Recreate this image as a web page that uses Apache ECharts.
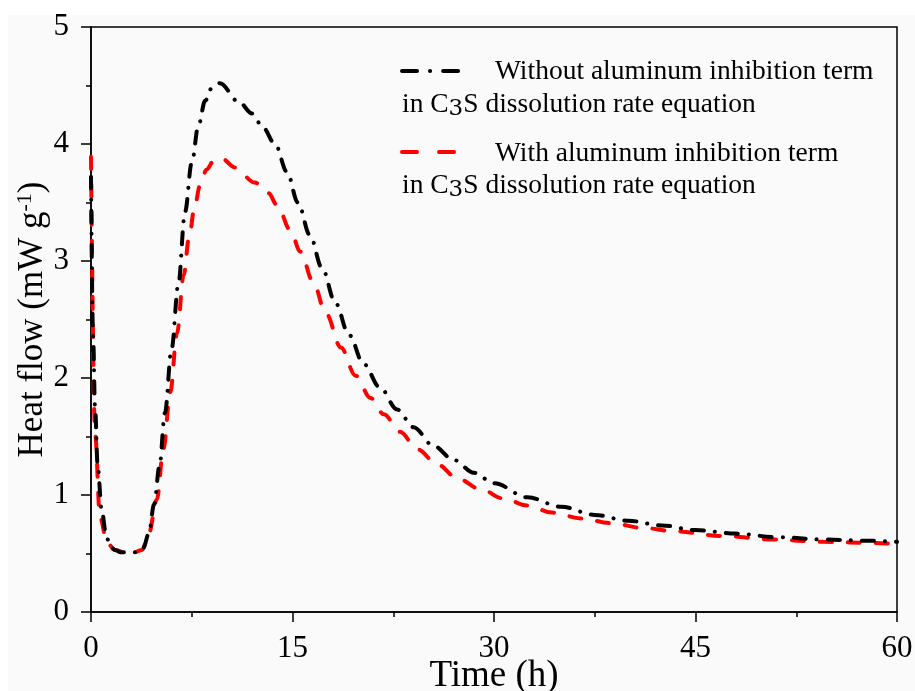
<!DOCTYPE html>
<html>
<head>
<meta charset="utf-8">
<script src="https://cdn.jsdelivr.net/npm/echarts@6/dist/echarts.min.js"></script>
<style>
  html, body { margin: 0; padding: 0; background: #ffffff; }
  #paper { position: absolute; left: 8px; top: 15px; width: 907px; height: 676px; background: #fafafa; }
  #chart { position: absolute; left: 0; top: 0; width: 915px; height: 691px; }
</style>
</head>
<body>
<div id="paper"></div>
<div id="chart"></div>
<script>
// Simulated heat flow of C3S hydration, with and without the aluminum inhibition term
const timeWithout = [0, 0.15, 0.3, 0.5, 0.8, 1.1, 1.4, 1.8, 2.2, 3.0, 3.5, 3.9, 4.3, 4.7, 5.1, 5.5, 6.0, 6.5, 7.0, 7.5, 8.0, 8.5, 9.0, 9.6, 11, 12, 12.8, 13.7, 14.6, 15.4, 16.3, 17.2, 18.2, 19.2, 20.3, 21.5, 22.8, 24, 25.5, 27, 28.5, 30, 32.5, 35, 37.5, 40, 42.5, 45, 48, 51, 54.5, 57.5, 60];
const heatWithout = [3.72, 2.38, 1.75, 1.24, 0.87, 0.68, 0.56, 0.53, 0.51, 0.51, 0.51, 0.55, 0.67, 0.92, 1.25, 1.7, 2.25, 2.8, 3.42, 3.84, 4.16, 4.37, 4.48, 4.52, 4.36, 4.26, 4.14, 4.0, 3.76, 3.5, 3.22, 2.94, 2.64, 2.37, 2.12, 1.92, 1.73, 1.58, 1.42, 1.30, 1.19, 1.10, 0.98, 0.9, 0.83, 0.78, 0.74, 0.70, 0.67, 0.64, 0.62, 0.61, 0.60];

const timeWith = [0, 0.3, 0.67, 1.2, 1.8, 2.5, 3.2, 3.8, 4.3, 4.9, 5.4, 5.9, 6.4, 6.9, 7.3, 7.7, 8.1, 8.6, 9.1, 9.7, 10.7, 12.2, 13.2, 13.9, 14.8, 15.6, 16.5, 17.5, 18.6, 19.7, 20.8, 21.8, 23, 24.3, 25.8, 27.3, 29, 30.7, 32.5, 34.3, 36.5, 38.7, 41, 43.4, 47, 50.7, 54.5, 58.4, 60];
const heatWith = [3.89, 1.53, 0.81, 0.59, 0.53, 0.51, 0.51, 0.53, 0.67, 0.96, 1.4, 1.88, 2.38, 2.88, 3.2, 3.45, 3.64, 3.78, 3.85, 3.88, 3.8, 3.67, 3.58, 3.47, 3.27, 3.08, 2.83, 2.55, 2.26, 2.02, 1.83, 1.69, 1.54, 1.39, 1.26, 1.14, 1.05, 0.97, 0.91, 0.85, 0.80, 0.76, 0.72, 0.69, 0.65, 0.62, 0.60, 0.59, 0.58];

const xTicks = { min: 0, max: 60, step: 15 };
const yTicks = { min: 0, max: 5, step: 1 };

const seriesNames = ['Without aluminum inhibition term', 'With aluminum inhibition term'];
const legendSecondLine = '{n|in C}{s|3}{n|S dissolution rate equation}';

const serif = "'Liberation Serif', 'Times New Roman', serif";

function pairs(xs, ys) { return xs.map((x, i) => [x, ys[i]]); }

const chart = echarts.init(document.getElementById('chart'), null, { renderer: 'canvas' });

const legendFont = 27.5;
const legendRich = {
  n: { fontFamily: serif, fontSize: legendFont, color: '#000' },
  s: { fontFamily: "'DejaVu Serif', serif", fontSize: 23, color: '#000', padding: [9, 0, 0, 0] }
};

const axisInk = { color: '#000', width: 1.5 };

chart.setOption({
  backgroundColor: 'transparent',
  animation: false,
  grid: {
    left: 91, right: 18, top: 27, bottom: 79,
    outerBoundsMode: 'none', containLabel: false,
    show: true, borderColor: '#000', borderWidth: 1.5, backgroundColor: 'transparent'
  },
  xAxis: {
    type: 'value', min: xTicks.min, max: xTicks.max, interval: xTicks.step,
    name: 'Time (h)', nameLocation: 'middle', nameGap: 46, nameMoveOverlap: false,
    nameTextStyle: { fontFamily: serif, fontSize: 37, color: '#000' },
    axisLine: { onZero: false, lineStyle: axisInk },
    axisTick: { length: 10, lineStyle: axisInk },
    minorTick: { show: true, splitNumber: 2, length: 5, lineStyle: axisInk },
    splitLine: { show: false },
    axisLabel: { fontFamily: serif, fontSize: 31, color: '#000', margin: 21 }
  },
  yAxis: {
    type: 'value', min: yTicks.min, max: yTicks.max, interval: yTicks.step,
    name: '{a|Heat flow (mW g}{sup|-1}{a|)}', nameLocation: 'middle', nameGap: 39, nameRotate: 90, nameMoveOverlap: false,
    nameTextStyle: {
      rich: {
        a: { fontFamily: serif, fontSize: 35, color: '#000' },
        sup: { fontFamily: serif, fontSize: 22, color: '#000', padding: [0, 0, 16, 0] }
      }
    },
    axisLine: { lineStyle: axisInk },
    axisTick: { length: 10, lineStyle: axisInk },
    minorTick: { show: true, splitNumber: 2, length: 5, lineStyle: axisInk },
    splitLine: { show: false },
    axisLabel: { fontFamily: serif, fontSize: 31, color: '#000', margin: 22 }
  },
  series: [
    {
      name: seriesNames[0], type: 'line', data: pairs(timeWithout, heatWithout),
      showSymbol: false, smooth: 0.35, smoothMonotone: 'x',
      lineStyle: { color: '#000', width: 4, type: [12, 11, 0.1, 11], cap: 'round' }, z: 3
    },
    {
      name: seriesNames[1], type: 'line', data: pairs(timeWith, heatWith),
      showSymbol: false, smooth: 0.35, smoothMonotone: 'x',
      lineStyle: { color: '#ff0000', width: 4, type: [12, 16], cap: 'round' }, z: 2
    }
  ],
  graphic: [
    { type: 'line', shape: { x1: 402, y1: 71, x2: 466, y2: 71 }, style: { stroke: '#000', lineWidth: 4, lineDash: [15, 13, 0.1, 13], lineCap: 'round' } },
    { type: 'text', left: 495, top: 58, style: { text: seriesNames[0], fontFamily: serif, fontSize: legendFont, fill: '#000' } },
    { type: 'text', left: 402, top: 91, style: { text: legendSecondLine, rich: legendRich, fill: '#000' } },
    { type: 'line', shape: { x1: 402, y1: 152, x2: 454, y2: 152 }, style: { stroke: '#ff0000', lineWidth: 4, lineDash: [15, 22], lineCap: 'round' } },
    { type: 'text', left: 495, top: 140, style: { text: seriesNames[1], fontFamily: serif, fontSize: legendFont, fill: '#000' } },
    { type: 'text', left: 402, top: 172, style: { text: legendSecondLine, rich: legendRich, fill: '#000' } }
  ]
});
</script>
</body>
</html>
